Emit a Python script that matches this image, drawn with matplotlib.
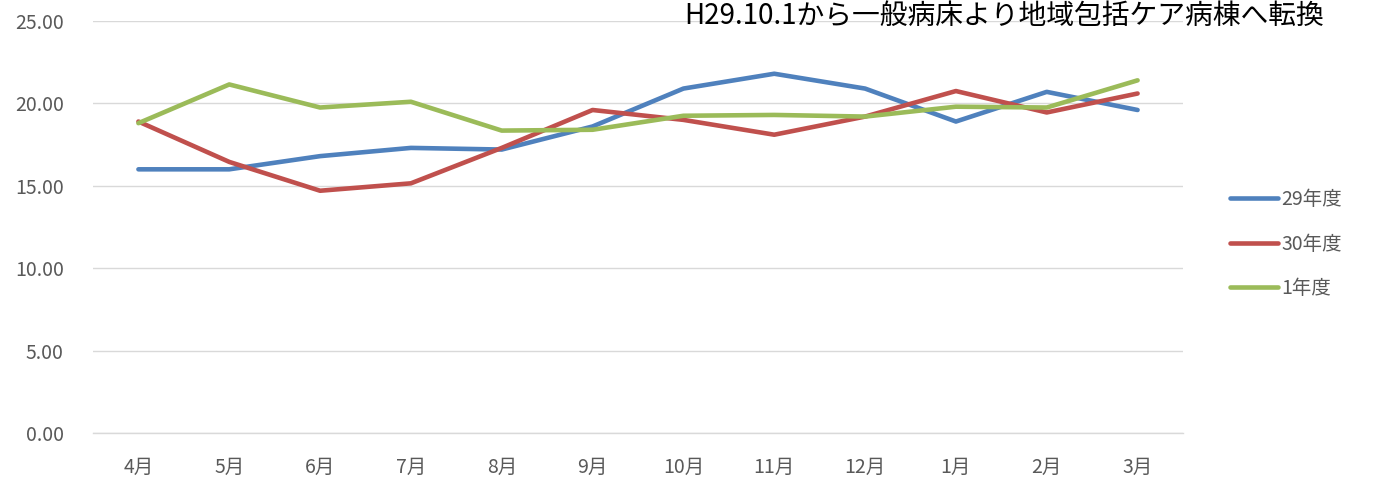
import matplotlib.pyplot as plt

plt.rcParams['font.family'] = ['Noto Sans CJK JP', 'DejaVu Sans']

months = ['4月', '5月', '6月', '7月', '8月', '9月', '10月', '11月', '12月', '1月', '2月', '3月']
fy29 = [16.0, 16.0, 16.8, 17.3, 17.2, 18.6, 20.9, 21.8, 20.9, 18.9, 20.7, 19.6]
fy30 = [18.9, 16.45, 14.7, 15.15, 17.3, 19.6, 19.0, 18.1, 19.2, 20.75, 19.45, 20.6]
fy1 = [18.8, 21.15, 19.75, 20.1, 18.35, 18.4, 19.25, 19.3, 19.2, 19.8, 19.75, 21.4]
series_names = ['29年度', '30年度', '1年度']
title = 'H29.10.1から一般病床より地域包括ケア病棟へ転換'

colors = ['#4F81BD', '#C0504D', '#9BBB59']

fig = plt.figure(figsize=(13.73, 4.79), dpi=100)
ax = fig.add_axes([93 / 1373, 1 - 433 / 479, 1090 / 1373, 412 / 479])

x = range(len(months))
for vals, name, c in zip([fy29, fy30, fy1], series_names, colors):
    ax.plot(x, vals, color=c, lw=3.3, label=name, solid_capstyle='round')

ax.set_xlim(-0.5, len(months) - 0.5)
ax.set_ylim(0, 25)
ax.set_yticks([0, 5, 10, 15, 20, 25])
ax.set_yticklabels([f'{v:.2f}' for v in [0, 5, 10, 15, 20, 25]])
ax.set_xticks(list(x))
ax.set_xticklabels(months)
ax.grid(axis='y', color='#d9d9d9', lw=1)
ax.axhline(0, color='#d9d9d9', lw=1, clip_on=False, zorder=0)
ax.set_axisbelow(True)
for s in ax.spines.values():
    s.set_visible(False)
ax.tick_params(length=0, labelsize=14, colors='#595959')
ax.tick_params(axis='x', pad=17)
ax.tick_params(axis='y', pad=21)

fig.text(1004 / 1373, 1 - 16 / 479, title, ha='center', va='center', fontsize=20, color='black')

ax.legend(loc='center left', bbox_to_anchor=(1222 / 1373, 1 - 244 / 479), bbox_transform=fig.transFigure,
          frameon=False, fontsize=14, labelcolor='#595959', handlelength=2.5, handletextpad=0.15,
          labelspacing=1.2, borderaxespad=0)

fig.savefig('out.png', dpi=100)
